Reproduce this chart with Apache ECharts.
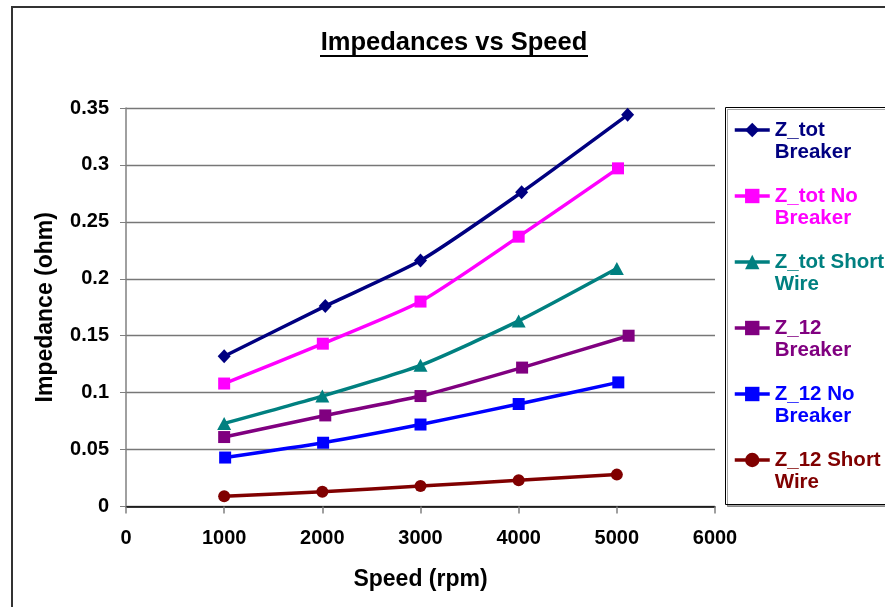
<!DOCTYPE html>
<html>
<head>
<meta charset="utf-8">
<title>Impedances vs Speed</title>
<script src="https://cdn.jsdelivr.net/npm/echarts@6/dist/echarts.min.js"></script>
<style>
  html, body { margin: 0; padding: 0; background: #fff; }
  #chart { width: 885px; height: 607px; }
</style>
</head>
<body>
<div id="chart"></div>
<script>
// Measured speeds (rpm) for each run
const zTotBreakerSpeed   = [1000, 2030, 3000, 4030, 5110];
const zTotNoBreakerSpeed = [1000, 2005, 3000, 4000, 5012];
const zTotShortWireSpeed = [1000, 2000, 3000, 4000, 5000];
const z12BreakerSpeed    = [1000, 2030, 3000, 4035, 5120];
const z12NoBreakerSpeed  = [1010, 2008, 3000, 4000, 5015];
const z12ShortWireSpeed  = [1000, 2000, 3000, 4000, 5000];

// Impedance (ohm)
const zTotBreaker   = [0.132, 0.176, 0.216, 0.276, 0.344];
const zTotNoBreaker = [0.108, 0.143, 0.180, 0.237, 0.297];
const zTotShortWire = [0.073, 0.097, 0.124, 0.163, 0.209];
const z12Breaker    = [0.061, 0.080, 0.097, 0.122, 0.150];
const z12NoBreaker  = [0.043, 0.056, 0.072, 0.090, 0.109];
const z12ShortWire  = [0.009, 0.013, 0.018, 0.023, 0.028];

const seriesNames = ['Z_tot Breaker', 'Z_tot No Breaker', 'Z_tot Short Wire',
                     'Z_12 Breaker', 'Z_12 No Breaker', 'Z_12 Short Wire'];
const legendLabels = ['Z_tot\nBreaker', 'Z_tot No\nBreaker', 'Z_tot Short\nWire',
                      'Z_12\nBreaker', 'Z_12 No\nBreaker', 'Z_12 Short\nWire'];

const FONT = '"Liberation Sans", Arial, sans-serif';

const seriesDefs = [
  { speed: zTotBreakerSpeed,   values: zTotBreaker,   color: '#000080', symbol: 'diamond',  size: [13, 14] },
  { speed: zTotNoBreakerSpeed, values: zTotNoBreaker, color: '#FF00FF', symbol: 'rect',     size: [12, 12] },
  { speed: zTotShortWireSpeed, values: zTotShortWire, color: '#008080', symbol: 'triangle', size: [14, 13] },
  { speed: z12BreakerSpeed,    values: z12Breaker,    color: '#800080', symbol: 'rect',     size: [12, 12] },
  { speed: z12NoBreakerSpeed,  values: z12NoBreaker,  color: '#0000FF', symbol: 'rect',     size: [12, 12] },
  { speed: z12ShortWireSpeed,  values: z12ShortWire,  color: '#800000', symbol: 'circle',   size: 12 }
];

const chart = echarts.init(document.getElementById('chart'), null, { renderer: 'canvas' });

const series = seriesDefs.map((d, i) => ({
  name: seriesNames[i],
  type: 'line',
  data: d.speed.map((s, k) => [s, d.values[k]]),
  smooth: 0.2,
  symbol: d.symbol,
  symbolSize: d.size,
  showAllSymbol: true,
  itemStyle: { color: d.color },
  lineStyle: { color: d.color, width: 3.5 },
  emphasis: { disabled: true },
  animation: false
}));

const option = {
  backgroundColor: '#ffffff',
  animation: false,
  title: {
    text: 'Impedances vs Speed',
    left: 454,
    top: 30,
    textAlign: 'center',
    padding: 0,
    textStyle: { fontFamily: FONT, fontSize: 25.5, fontWeight: 'bold', color: '#000' }
  },
  grid: { left: 126, right: 170, top: 108, bottom: 100.5, containLabel: false },
  xAxis: {
    type: 'value',
    min: 0, max: 6000, interval: 1000,
    name: 'Speed (rpm)',
    nameLocation: 'middle',
    nameGap: 62,
    nameTextStyle: { fontFamily: FONT, fontSize: 23, fontWeight: 'bold', color: '#000' },
    axisLine: { show: true, onZero: false, lineStyle: { color: '#000', width: 1.5 } },
    axisTick: { show: true, inside: false, length: 7, lineStyle: { color: '#808080', width: 1.5 } },
    axisLabel: {
      margin: 22, fontFamily: FONT, fontSize: 20, fontWeight: 'bold', color: '#000',
      formatter: v => String(v)
    },
    splitLine: { show: false }
  },
  yAxis: {
    type: 'value',
    min: 0, max: 0.35, interval: 0.05,
    name: 'Impedance (ohm)',
    nameLocation: 'middle',
    nameGap: 69,
    nameTextStyle: { fontFamily: FONT, fontSize: 23, fontWeight: 'bold', color: '#000' },
    axisLine: { show: true, lineStyle: { color: '#808080', width: 1.5 } },
    axisTick: { show: true, inside: false, length: 6, lineStyle: { color: '#808080', width: 1 } },
    axisLabel: {
      margin: 17, fontFamily: FONT, fontSize: 20, fontWeight: 'bold', color: '#000',
      formatter: v => String(parseFloat(v.toFixed(2)))
    },
    splitLine: { show: true, lineStyle: { color: '#777', width: 1.3 } }
  },
  legend: {
    orient: 'vertical',
    left: 733,
    top: 97,
    padding: 0,
    itemGap: 0,
    itemWidth: 35,
    itemHeight: 18,
    selectedMode: false,
    lineStyle: { width: 3.5 },
    // a leading blank line keeps the key symbol level with the first text line
    formatter: name => '\n' + legendLabels[seriesNames.indexOf(name)],
    textStyle: {
      fontFamily: FONT, fontSize: 20.5, fontWeight: 'bold', lineHeight: 22
    },
    data: seriesNames.map((n, i) => ({ name: n, textStyle: { color: seriesDefs[i].color } }))
  },
  graphic: [
    {
      // outer chart frame
      type: 'rect', z: 0, silent: true,
      shape: { x: 12, y: 7, width: 900, height: 650 },
      style: { fill: 'none', stroke: '#333', lineWidth: 2 }
    },
    {
      // legend frame
      type: 'rect', z: 1, silent: true,
      shape: { x: 725.5, y: 107.5, width: 200, height: 397 },
      style: { fill: '#fff', stroke: '#000', lineWidth: 1,
               shadowColor: 'rgba(0,0,0,0.35)', shadowOffsetX: 2, shadowOffsetY: 2, shadowBlur: 0 }
    },
    {
      // title underline
      type: 'line', z: 5, silent: true,
      shape: { x1: 320, y1: 56, x2: 588, y2: 56 },
      style: { stroke: '#000', lineWidth: 2 }
    }
  ],
  series: series
};

chart.setOption(option);
</script>
</body>
</html>
